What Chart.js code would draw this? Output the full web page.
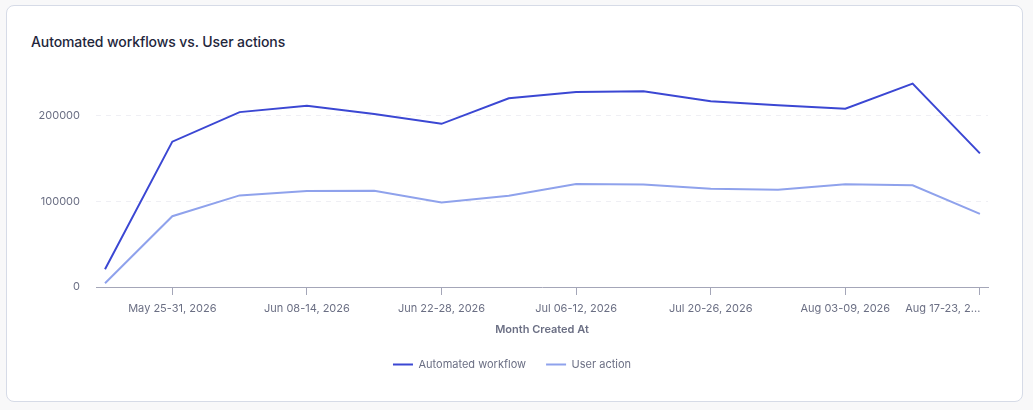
<!DOCTYPE html>
<html>
<head>
<meta charset="utf-8">
<script src="https://cdn.jsdelivr.net/npm/chart.js@4.4.1/dist/chart.umd.min.js"></script>
<style>
  html, body { margin: 0; padding: 0; background: #f8f8f9; }
  body { width: 1033px; height: 410px; position: relative; overflow: hidden; font-family: Inter, sans-serif; }
  .card {
    position: absolute; left: 6px; top: 5px; width: 1015px; height: 395px;
    background: #fff; border: 1px solid #d6dbe7; border-radius: 8px;
  }
  .card h2 {
    position: absolute; left: 24px; top: 27px; margin: 0;
    font-size: 14px; font-weight: 500; color: #23263b; letter-spacing: -0.1px;
  }
  .chart-wrap { position: absolute; left: 0; top: 0; width: 1033px; height: 410px; }
</style>
</head>
<body>
<div class="card"><h2>Automated workflows vs. User actions</h2></div>
<div class="chart-wrap"><canvas id="trendChart"></canvas></div>
<script>
// weekly buckets
const weekLabels = [
  'May 18-24, 2026', 'May 25-31, 2026', 'Jun 01-07, 2026', 'Jun 08-14, 2026',
  'Jun 15-21, 2026', 'Jun 22-28, 2026', 'Jun 29-Jul 05, 2026', 'Jul 06-12, 2026',
  'Jul 13-19, 2026', 'Jul 20-26, 2026', 'Jul 27-Aug 02, 2026', 'Aug 03-09, 2026',
  'Aug 10-16, 2026', 'Aug 17-23, 2026'
];
const automatedWorkflow = [20800, 169800, 204300, 211800, 202000, 190600, 220400, 227800, 228600, 216900, 212200, 208200, 237600, 156100];
const userAction = [4300, 82700, 107000, 112200, 112500, 98800, 106700, 120400, 119600, 114900, 113700, 120000, 118800, 85500];
const yTicks = [0, 100000, 200000];

const tickColor = '#6b6f84';
const axisColor = '#a4a6b8';

const toPoints = values => values.map((v, i) => ({ x: i, y: v }));

// long last label gets cut and pushed left so it ends at its tick
const endAlign = (scale, text) => {
  const ctx = scale.ctx;
  ctx.save();
  ctx.font = '11px Inter';
  const n = Math.round(ctx.measureText(text).width / ctx.measureText(' ').width);
  ctx.restore();
  return text + ' '.repeat(n);
};

new Chart(document.getElementById('trendChart'), {
  type: 'line',
  data: {
    datasets: [
      {
        label: 'Automated workflow',
        data: toPoints(automatedWorkflow),
        borderColor: '#3b47d3',
        backgroundColor: '#3b47d3',
        borderWidth: 2,
        pointRadius: 0,
        tension: 0,
      },
      {
        label: 'User action',
        data: toPoints(userAction),
        borderColor: '#8fa2ec',
        backgroundColor: '#8fa2ec',
        borderWidth: 2,
        pointRadius: 0,
        tension: 0,
      },
    ],
  },
  options: {
    responsive: true,
    maintainAspectRatio: false,
    animation: false,
    layout: { padding: { left: 36, right: 45, top: 73, bottom: 30 } },
    plugins: {
      tooltip: { enabled: false },
      legend: {
        position: 'bottom',
        labels: {
          usePointStyle: true,
          pointStyle: 'line',
          pointStyleWidth: 20,
          padding: 20,
          color: tickColor,
          font: { family: 'Inter', size: 11 },
        },
      },
    },
    scales: {
      x: {
        type: 'linear',
        min: -0.134,
        max: 13.12,
        afterBuildTicks: axis => {
          // label every other week, starting at the second
          axis.ticks = weekLabels.map((_, i) => ({ value: i })).filter(t => t.value % 2 === 1);
        },
        afterFit: axis => {
          axis.height = 52;
          axis.paddingLeft = 0;
          axis.paddingRight = 0;
        },
        ticks: {
          autoSkip: false,
          maxRotation: 0,
          padding: 7,
          color: tickColor,
          font: { family: 'Inter', size: 11 },
          callback: function (value) {
            const label = weekLabels[value];
            if (value === weekLabels.length - 1) return endAlign(this, label.slice(0, 12) + '...');
            return label;
          },
        },
        grid: {
          drawOnChartArea: false,
          tickLength: 8,
          color: axisColor,
        },
        border: { display: true, color: axisColor, width: 1 },
        title: {
          display: true,
          text: 'Month Created At',
          color: tickColor,
          font: { family: 'Inter', size: 11, weight: '600' },
          padding: { top: 4, bottom: 3 },
        },
      },
      y: {
        min: 0,
        max: 250000,
        afterBuildTicks: axis => {
          axis.ticks = yTicks.map(v => ({ value: v }));
        },
        afterFit: axis => { axis.width = 60; },
        ticks: {
          padding: 16,
          color: tickColor,
          font: { family: 'Inter', size: 11 },
          callback: value => String(value),
        },
        grid: {
          drawTicks: false,
          color: '#efeff4',
        },
        border: { display: false, dash: [5, 5] },
      },
    },
  },
});
</script>
</body>
</html>
